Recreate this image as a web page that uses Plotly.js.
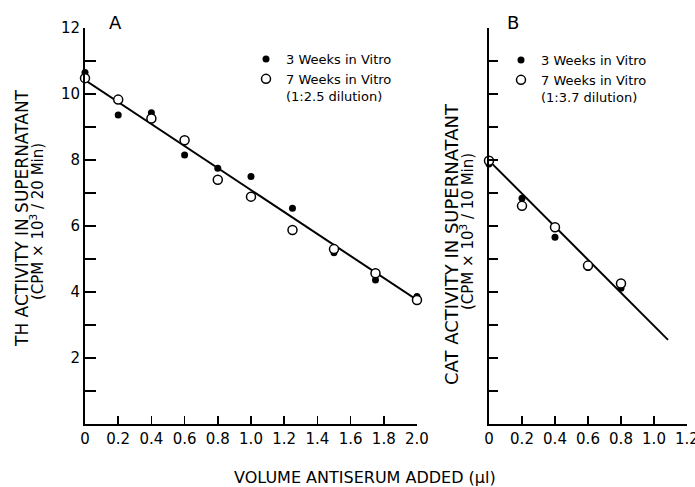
<!DOCTYPE html>
<html>
<head>
<meta charset="utf-8">
<script src="https://cdn.plot.ly/plotly-3.0.1.min.js"></script>
<style>html,body{margin:0;padding:0;background:#fff;}#chart{width:695px;height:487px;}</style>
</head>
<body>
<div id="chart"></div>
<script>
// Panel A data (TH activity)
var xA = [0, 0.2, 0.4, 0.6, 0.8, 1.0, 1.25, 1.5, 1.75, 2.0];
var thWeek3 = [10.65, 9.36, 9.43, 8.15, 7.75, 7.5, 6.54, 5.19, 4.36, 3.86];
var thWeek7 = [10.48, 9.83, 9.26, 8.6, 7.4, 6.89, 5.88, 5.30, 4.57, 3.76];
var fitAx = [0, 2.0];
var fitAy = [10.42, 3.76];

// Panel B data (CAT activity)
var xB = [0, 0.2, 0.4, 0.6, 0.8];
var catWeek3 = [7.88, 6.84, 5.66, 4.74, 4.11];
var catWeek7 = [7.98, 6.61, 5.96, 4.80, 4.26];
var fitBx = [0, 1.085];
var fitBy = [7.98, 2.55];

// Tick labels
var yTickValsA = [2, 4, 6, 8, 10, 12];
var yTickTextA = ['2', '4', '6', '8', '10', '12'];
var yTickValsB = [0,1,2,3,4,5,6,7,8,9,10,11,12];
var xTickValsA = [0, 0.2, 0.4, 0.6, 0.8, 1.0, 1.2, 1.4, 1.6, 1.8, 2.0];
var xTickTextA = ['0', '0.2', '0.4', '0.6', '0.8', '1.0', '1.2', '1.4', '1.6', '1.8', '2.0'];
var xTickValsB = [0, 0.2, 0.4, 0.6, 0.8, 1.0, 1.2];
var xTickTextB = ['0', '0.2', '0.4', '0.6', '0.8', '1.0', '1.2'];

var FONT = 'DejaVu Sans, sans-serif';
var W = 695, H = 487;
function px(x){ return x / W; }
function py(y){ return (H - y) / H; }

var filledMarker = {symbol: 'circle', size: 7, color: '#000', line: {width: 0}};
var openMarker = {symbol: 'circle', size: 9, color: '#fff', line: {width: 1.5, color: '#000'}};

var traces = [
  {x: fitAx, y: fitAy, xaxis: 'x', yaxis: 'y', mode: 'lines', line: {color: '#000', width: 2}, showlegend: false, hoverinfo: 'skip'},
  {x: xA, y: thWeek3, xaxis: 'x', yaxis: 'y', mode: 'markers', marker: filledMarker, name: '3 Weeks in Vitro', legend: 'legend', cliponaxis: false},
  {x: xA, y: thWeek7, xaxis: 'x', yaxis: 'y', mode: 'markers', marker: openMarker, name: '7 Weeks in Vitro<br>(1:2.5 dilution)', legend: 'legend', cliponaxis: false},
  {x: fitBx, y: fitBy, xaxis: 'x2', yaxis: 'y2', mode: 'lines', line: {color: '#000', width: 2}, showlegend: false, hoverinfo: 'skip'},
  {x: xB, y: catWeek3, xaxis: 'x2', yaxis: 'y2', mode: 'markers', marker: filledMarker, name: '3 Weeks in Vitro', legend: 'legend2', cliponaxis: false},
  {x: xB, y: catWeek7, xaxis: 'x2', yaxis: 'y2', mode: 'markers', marker: openMarker, name: '7 Weeks in Vitro<br>(1:3.7 dilution)', legend: 'legend2', cliponaxis: false}
];

var axisCommon = {
  showline: true, linecolor: '#000', linewidth: 2, mirror: false,
  showgrid: false, zeroline: false, ticks: 'inside', tickcolor: '#000',
  tickwidth: 1.5, tickmode: 'array', fixedrange: true, ticklabeloverflow: 'allow'
};

function ann(text, x, y, size, angle){
  var a = {text: text, x: px(x), y: py(y), xref: 'paper', yref: 'paper', showarrow: false,
    xanchor: 'center', yanchor: 'middle', font: {size: size, family: FONT, color: '#000'}};
  if (angle) a.textangle = angle;
  return a;
}

var layout = {
  width: W, height: H,
  margin: {l: 0, r: 0, t: 0, b: 0},
  paper_bgcolor: '#fff', plot_bgcolor: 'rgba(0,0,0,0)',
  font: {family: FONT, color: '#000', size: 14},
  xaxis: Object.assign({}, axisCommon, {domain: [px(85), px(417)], range: [0, 2.0001], anchor: 'y',
    tickvals: xTickValsA, ticktext: xTickTextA, ticklen: 8, tickfont: {size: 15, family: FONT}}),
  yaxis: Object.assign({}, axisCommon, {domain: [py(424), py(28)], range: [0, 12.0001], anchor: 'x',
    tickvals: yTickValsA, ticktext: yTickTextA, ticklen: 11, tickfont: {size: 15, family: FONT},
    minor: {dtick: 1, ticks: 'inside', ticklen: 11, tickwidth: 1.5, tickcolor: '#000', showgrid: false}}),
  xaxis2: Object.assign({}, axisCommon, {domain: [px(489), px(687)], range: [0, 1.2001], anchor: 'y2',
    tickvals: xTickValsB, ticktext: xTickTextB, ticklen: 8, tickfont: {size: 15, family: FONT}}),
  yaxis2: Object.assign({}, axisCommon, {domain: [py(424), py(28)], range: [0, 12.0001], anchor: 'x2',
    tickvals: yTickValsB, showticklabels: false, ticklen: 9}),
  legend: {x: px(246), y: py(44), xanchor: 'left', yanchor: 'top', bgcolor: 'rgba(0,0,0,0)',
    borderwidth: 0, font: {family: FONT, size: 13}, itemwidth: 30, valign: 'top', tracegroupgap: 0},
  legend2: {x: px(501), y: py(45), xanchor: 'left', yanchor: 'top', bgcolor: 'rgba(0,0,0,0)',
    borderwidth: 0, font: {family: FONT, size: 13}, itemwidth: 30, valign: 'top', tracegroupgap: 0},
  annotations: [
    ann('A', 115, 22, 18),
    ann('B', 513, 23, 18),
    ann('TH ACTIVITY IN SUPERNATANT', 22, 218, 17, -90),
    ann('(CPM × 10<sup>3</sup> / 20 Min)', 37, 222, 15, -90),
    ann('CAT ACTIVITY IN SUPERNATANT', 451, 244, 18, -90),
    ann('(CPM × 10<sup>3</sup> / 10 Min)', 467, 232, 15, -90),
    ann('VOLUME ANTISERUM ADDED (µl)', 365, 477, 16)
  ]
};

Plotly.newPlot('chart', traces, layout, {staticPlot: true, displayModeBar: false});
</script>
</body>
</html>
